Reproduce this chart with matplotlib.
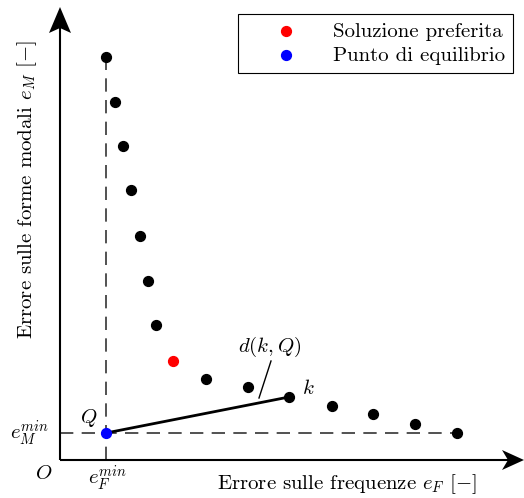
import numpy as np
import matplotlib.pyplot as plt

plt.rcParams['font.family'] = 'cmr10'
plt.rcParams['mathtext.fontset'] = 'cm'
plt.rcParams['axes.formatter.use_mathtext'] = True

# Pareto front (e_F, e_M), arbitrary units
e_F = [1.15, 1.375, 1.575, 1.775, 2.0, 2.2, 2.4, 3.65, 4.7, 5.725, 6.8, 7.825, 8.875, 9.925]
e_M = [10.075, 8.95, 7.85, 6.75, 5.6, 4.475, 3.375, 2.025, 1.825, 1.575, 1.35, 1.15, 0.9, 0.675]
pref = (2.825, 2.475)      # soluzione preferita
Q = (1.15, 0.675)          # punto di equilibrio
k = (5.725, 1.575)

fig = plt.figure(figsize=(5.24, 4.98), dpi=100)
ax = fig.add_axes([0, 0, 1, 1])
ax.set_xlim(-1.5, 11.6)
ax.set_ylim(-0.95, 11.5)
ax.axis('off')

# axes with stealth arrow heads
ax.plot([0, 11.2], [0, 0], color='k', lw=1.5, solid_capstyle='butt')
ax.plot([0, 0], [0, 10.8], color='k', lw=1.5, solid_capstyle='butt')
ax.fill([11.6, 11.05, 11.2, 11.05], [0, 0.25, 0, -0.25], color='k', lw=0)
ax.fill([0, 0.275, 0, -0.275], [11.325, 10.675, 10.8, 10.675], color='k', lw=0)

# dashed reference lines
ax.plot([Q[0], Q[0]], [0, e_M[0]], ls=(0, (8, 5)), color='#333333', lw=1.2, zorder=1)
ax.plot([0, e_F[-1]], [Q[1], Q[1]], ls=(0, (8, 5)), color='#333333', lw=1.2, zorder=1)

# distance d(k,Q)
ax.plot([Q[0], k[0]], [Q[1], k[1]], color='k', lw=2, zorder=2)
ax.plot([4.975, 5.275], [1.55, 2.475], color='k', lw=1, zorder=2)

ax.scatter(e_F, e_M, s=50, color='k', zorder=3)
ax.scatter([pref[0]], [pref[1]], s=50, color='red', zorder=3, label='Soluzione preferita')
ax.scatter([Q[0]], [Q[1]], s=50, color='blue', zorder=3, label='Punto di equilibrio')

fs = 15
ax.text(5.25, 2.825, r'$d(k,Q)$', fontsize=fs, ha='center', va='center')
ax.text(6.2, 1.8, r'$k$', fontsize=fs, ha='center', va='center')
ax.text(0.72, 1.05, r'$Q$', fontsize=fs, ha='center', va='center')
ax.text(-0.4, -0.35, r'$O$', fontsize=fs, ha='center', va='center')
ax.text(1.18, -0.45, r'$e_F^{min}$', fontsize=fs, ha='center', va='center')
ax.text(-0.75, 0.675, r'$e_M^{min}$', fontsize=fs, ha='center', va='center')
ax.text(7.175, -0.6, r'Errore sulle frequenze $e_F$ $[-]$', fontsize=fs, ha='center', va='center')
ax.text(-0.825, 6.75, r'Errore sulle forme modali $e_M$ $[-]$', fontsize=fs, ha='center',
        va='center', rotation=90)

leg = ax.legend(loc='upper right', bbox_to_anchor=(513 / 524, 1 - 14 / 498), fontsize=fs,
                frameon=True, fancybox=False, edgecolor='k', framealpha=1, borderaxespad=0,
                handletextpad=0.38, borderpad=0.4, labelspacing=0.25, handlelength=3.75)
leg.get_frame().set_linewidth(0.8)

fig.savefig('out.png', dpi=100)
